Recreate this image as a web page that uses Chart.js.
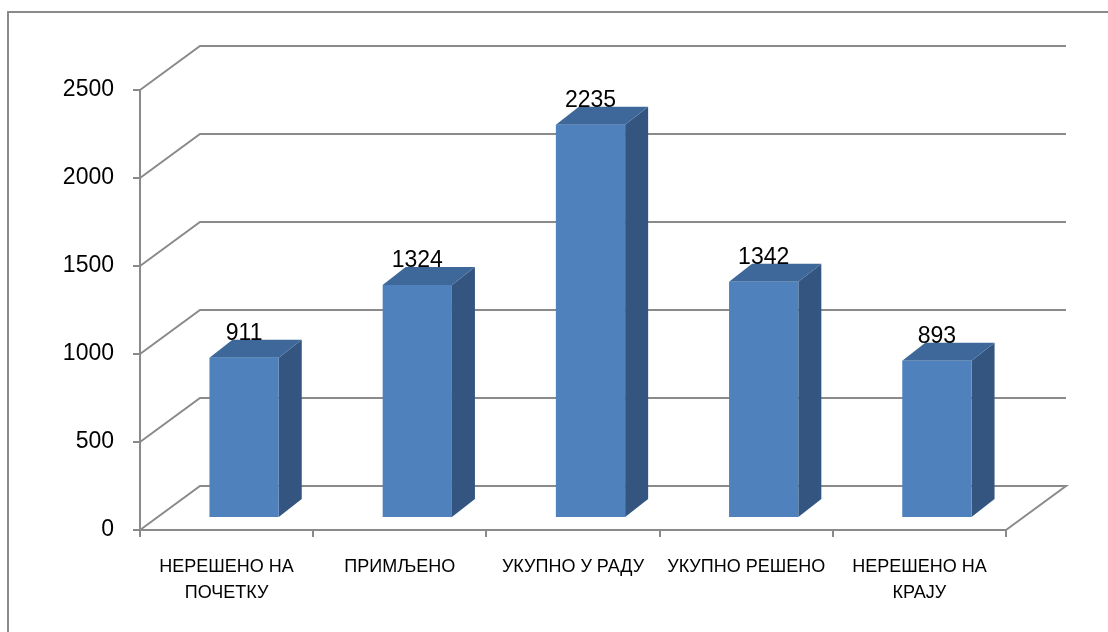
<!DOCTYPE html>
<html>
<head>
<meta charset="utf-8">
<script src="https://cdn.jsdelivr.net/npm/chart.js@4/dist/chart.umd.min.js"></script>
<style>
  html, body { margin: 0; padding: 0; background: #ffffff; }
  #wrap { width: 1108px; height: 632px; }
</style>
</head>
<body>
<div id="wrap"><canvas id="chart" width="1108" height="632"></canvas></div>
<script>
// Chart data
const categories = [
    ['НЕРЕШЕНО НА', 'ПОЧЕТКУ'],
    'ПРИМЉЕНО',
    'УКУПНО У РАДУ',
    'УКУПНО РЕШЕНО',
    ['НЕРЕШЕНО НА', 'КРАЈУ']
];
const values = [911, 1324, 2235, 1342, 893];
const yMin = 0;
const yMax = 2500;
const yStep = 500;

// Colours
const frontColor = '#4f81bd';
const topColor = '#3d6899';
const sideColor = '#33557f';
const lineColor = '#8a8a8a';
const fontFamily = '"Liberation Sans", Arial, sans-serif';

// 3D geometry (pixels)
const wallDepth = { x: 60, y: -44 };   // back wall offset from front plane
const barShift = { x: 17.5, y: -12 };  // bars sit a bit behind the front plane
const barDepth = { x: 23, y: -18 };    // thickness of each bar

// Draws the frame, the 3D walls and the bars themselves
const threeDPlugin = {
    id: 'threeD',
    beforeDraw(chart) {
        const ctx = chart.ctx;
        ctx.save();
        ctx.strokeStyle = lineColor;
        ctx.lineWidth = 2;
        ctx.strokeRect(8, 12, 1200, 700);
        ctx.restore();
    },
    beforeDatasetsDraw(chart) {
        const ctx = chart.ctx;
        const y = chart.scales.y;
        const area = chart.chartArea;
        ctx.save();
        ctx.strokeStyle = lineColor;
        ctx.lineWidth = 2;
        for (let v = yMin; v <= yMax; v += yStep) {
            const py = y.getPixelForValue(v);
            ctx.beginPath();
            ctx.moveTo(area.left, py);
            ctx.lineTo(area.left + wallDepth.x, py + wallDepth.y);
            ctx.lineTo(area.right + wallDepth.x, py + wallDepth.y);
            if (v === yMin) {
                ctx.lineTo(area.right, py);
            }
            ctx.stroke();
        }
        ctx.restore();
    },
    afterDatasetsDraw(chart) {
        const ctx = chart.ctx;
        const meta = chart.getDatasetMeta(0);
        ctx.save();
        meta.data.forEach((bar, i) => {
            const p = bar.getProps(['x', 'y', 'base', 'width'], true);
            const left = p.x - p.width / 2 + barShift.x;
            const right = p.x + p.width / 2 + barShift.x;
            const top = p.y + barShift.y;
            const bottom = p.base + barShift.y;

            // side face
            ctx.fillStyle = sideColor;
            ctx.beginPath();
            ctx.moveTo(right, top);
            ctx.lineTo(right + barDepth.x, top + barDepth.y);
            ctx.lineTo(right + barDepth.x, bottom + barDepth.y);
            ctx.lineTo(right, bottom);
            ctx.closePath();
            ctx.fill();

            // top face
            ctx.fillStyle = topColor;
            ctx.beginPath();
            ctx.moveTo(left, top);
            ctx.lineTo(left + barDepth.x, top + barDepth.y);
            ctx.lineTo(right + barDepth.x, top + barDepth.y);
            ctx.lineTo(right, top);
            ctx.closePath();
            ctx.fill();

            // front face
            ctx.fillStyle = frontColor;
            ctx.fillRect(left, top, right - left, bottom - top);

            // value label
            ctx.fillStyle = '#000000';
            ctx.font = '23px ' + fontFamily;
            ctx.textAlign = 'center';
            ctx.textBaseline = 'alphabetic';
            ctx.fillText(String(values[i]), (left + right) / 2, top - 18);
        });
        ctx.restore();
    }
};

const ctx = document.getElementById('chart').getContext('2d');
const chart = new Chart(ctx, {
    type: 'bar',
    data: {
        labels: categories,
        datasets: [{
            data: values,
            backgroundColor: 'rgba(0,0,0,0)',
            borderWidth: 0,
            categoryPercentage: 1,
            barPercentage: 0.4
        }]
    },
    options: {
        responsive: false,
        maintainAspectRatio: false,
        animation: false,
        layout: {
            padding: { top: 90, right: 102, bottom: 0, left: 0 }
        },
        plugins: {
            legend: { display: false },
            tooltip: { enabled: false }
        },
        scales: {
            x: {
                afterFit(scale) { scale.height = 102; },
                grid: {
                    offset: true,
                    drawOnChartArea: false,
                    drawTicks: true,
                    tickLength: 7,
                    color: lineColor,
                    lineWidth: 2
                },
                border: { display: true, color: lineColor, width: 2 },
                ticks: {
                    color: '#000000',
                    padding: 17,
                    maxRotation: 0,
                    autoSkip: false,
                    font: { family: fontFamily, size: 18, lineHeight: 1.45 }
                }
            },
            y: {
                min: yMin,
                max: yMax,
                afterFit(scale) { scale.width = 140; },
                grid: {
                    drawOnChartArea: false,
                    drawTicks: true,
                    tickLength: 7,
                    color: lineColor,
                    lineWidth: 2
                },
                border: { display: true, color: lineColor, width: 2 },
                ticks: {
                    stepSize: yStep,
                    color: '#000000',
                    padding: 19,
                    font: { family: fontFamily, size: 23 },
                    callback: (value) => String(value)
                }
            }
        }
    },
    plugins: [threeDPlugin]
});
</script>
</body>
</html>
